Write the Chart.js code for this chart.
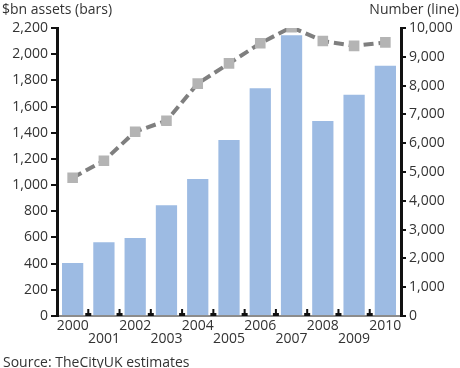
<!DOCTYPE html>
<html lang="en">
<head>
<meta charset="UTF-8">
<title>Assets and number</title>
<script src="https://cdn.jsdelivr.net/npm/chart.js"></script>
<style>
    body { margin: 0; background: #fff; font-family: "Open Sans", sans-serif; color: #333; }
    .wrap { position: relative; width: 460px; height: 368px; }
    .note { position: absolute; font-size: 14px; white-space: nowrap; }
</style>
</head>
<body>
<div class="wrap">
    <canvas id="myChart" width="460" height="368"></canvas>
    <div class="note" style="left:2px; top:-1px;">$bn assets (bars)</div>
    <div class="note" style="right:1px; top:-1px;">Number (line)</div>
    <div class="note" style="left:3px; top:352px;">Source: TheCityUK estimates</div>
</div>

<script>
    var years = ['2000', '2001', '2002', '2003', '2004', '2005', '2006', '2007', '2008', '2009', '2010'];
    var assets = [405, 563, 596, 846, 1047, 1345, 1739, 2145, 1490, 1690, 1912];
    var number = [4800, 5390, 6400, 6780, 8070, 8770, 9470, 10030, 9550, 9380, 9500];

    // small dark marks between the bars, standing on the x axis
    var betweenMarks = {
        id: 'betweenMarks',
        afterDraw: function (chart) {
            var ctx = chart.ctx;
            var x = chart.scales.x;
            var bottom = chart.chartArea.bottom;
            ctx.save();
            ctx.fillStyle = '#111';
            for (var i = 0; i < years.length - 1; i++) {
                var px = (x.getPixelForValue(i) + x.getPixelForValue(i + 1)) / 2;
                ctx.fillRect(px - 1, bottom - 7, 2, 7);
                ctx.fillRect(px - 3, bottom - 3, 6, 3);
            }
            ctx.restore();
        }
    };

    var tickFont = { family: 'Open Sans', size: 14 };

    var ctx = document.getElementById('myChart').getContext('2d');
    var myChart = new Chart(ctx, {
        type: 'bar',
        data: {
            labels: years,
            datasets: [{
                type: 'line',
                label: 'Number',
                data: number,
                yAxisID: 'y2',
                borderColor: '#7f7f7f',
                borderWidth: 4,
                borderDash: [10, 5],
                pointStyle: 'rect',
                pointRadius: 7.5,
                pointBorderWidth: 0,
                pointBackgroundColor: '#b4b4b4',
                order: 0
            }, {
                label: 'Assets',
                data: assets,
                yAxisID: 'y',
                backgroundColor: '#9dbbe3',
                categoryPercentage: 1,
                barPercentage: 0.68,
                order: 1
            }]
        },
        options: {
            responsive: false,
            animation: false,
            layout: { padding: { top: 28, left: 0, right: 0, bottom: 0 } },
            plugins: { legend: { display: false }, tooltip: { enabled: false } },
            scales: {
                x: {
                    offset: true,
                    afterFit: function (s) { s.height = 52; },
                    border: { color: '#8c8c8c', width: 2 },
                    grid: { display: false },
                    ticks: {
                        autoSkip: false,
                        maxRotation: 0,
                        padding: -5,
                        color: '#333',
                        font: { family: 'Open Sans', size: 14, lineHeight: 0.95 },
                        callback: function (v, i) {
                            return i % 2 === 0 ? [years[i], ''] : ['', years[i]];
                        }
                    }
                },
                y: {
                    position: 'left',
                    min: 0,
                    max: 2200,
                    afterFit: function (s) { s.width = 57; },
                    border: { color: '#111', width: 3 },
                    grid: { drawOnChartArea: false, color: '#111', lineWidth: 2, tickLength: 6 },
                    ticks: {
                        stepSize: 200,
                        padding: 3,
                        color: '#333',
                        font: tickFont,
                        callback: function (v) { return v.toLocaleString('en-US'); }
                    }
                },
                y2: {
                    position: 'right',
                    min: 0,
                    max: 10000,
                    afterFit: function (s) { s.width = 59; },
                    border: { color: '#111', width: 3 },
                    grid: { drawOnChartArea: false, color: '#111', lineWidth: 2, tickLength: 5 },
                    ticks: {
                        stepSize: 1000,
                        padding: 3,
                        color: '#333',
                        font: tickFont,
                        callback: function (v) { return v.toLocaleString('en-US'); }
                    }
                }
            }
        },
        plugins: [betweenMarks]
    });
</script>
</body>
</html>
